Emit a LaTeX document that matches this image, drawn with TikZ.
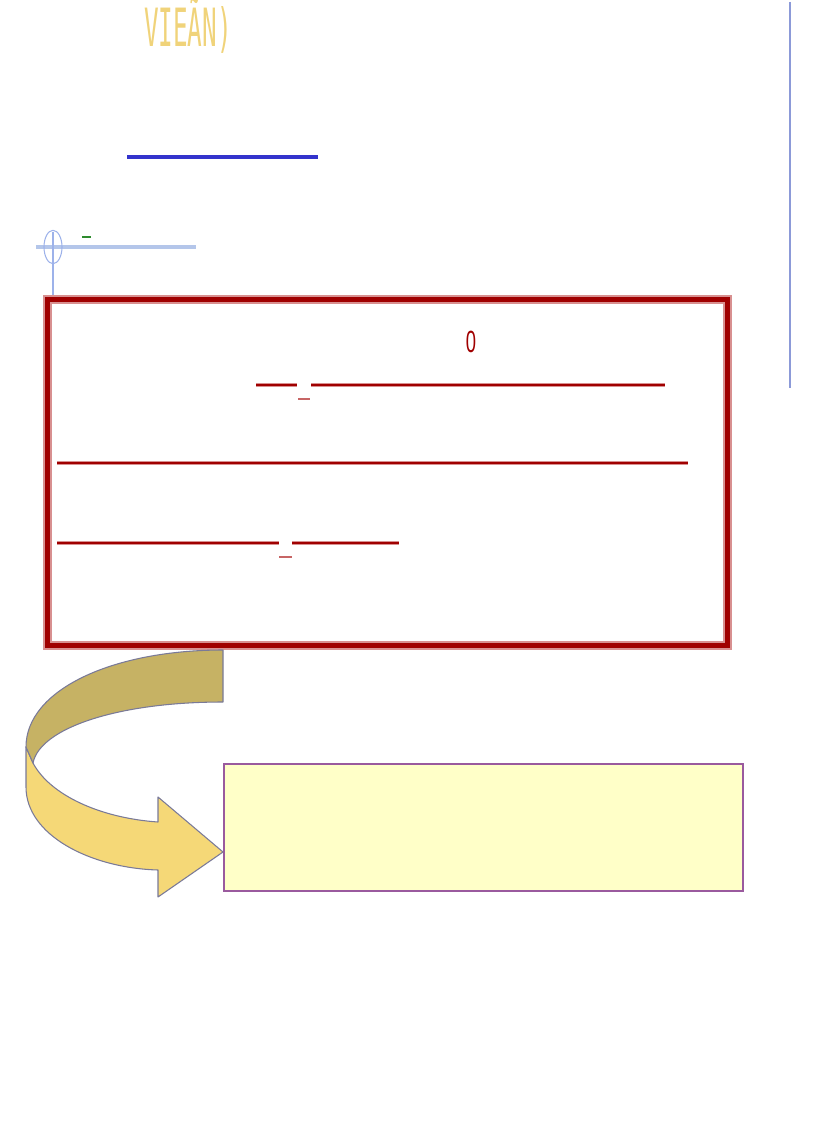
\documentclass[tikz,border=0pt]{standalone}
\usepackage{fontspec}
\usetikzlibrary{shapes.geometric}
\newfontfamily\titlefont{DejaVu Sans Mono}
\newfontfamily\numfont{Liberation Sans}
\definecolor{titlecol}{HTML}{F0D37A}
\definecolor{blueline}{HTML}{3333CC}
\definecolor{lightblue}{HTML}{B4C6EA}
\definecolor{ellcol}{HTML}{9DB2EA}
\definecolor{greencol}{HTML}{2E8B2E}
\definecolor{rightcol}{HTML}{8C9AD8}
\definecolor{darkred}{HTML}{A00000}
\definecolor{pinkhalo}{HTML}{D89090}
\definecolor{khaki}{HTML}{C6B264}
\definecolor{yellowband}{HTML}{F5D877}
\definecolor{arrowedge}{HTML}{7A7A98}
\definecolor{boxfill}{HTML}{FFFFC8}
\definecolor{boxdraw}{HTML}{9A5A9E}
\tikzset{
  redrule/.style={line width=2.4pt, pinkhalo},
  redcore/.style={line width=1.6pt, darkred},
  smalldash/.style={line width=1.8pt, pinkhalo!70!darkred},
  bandedge/.style={draw=arrowedge, line width=0.8pt, line join=round},
}
\begin{document}
\begin{tikzpicture}[x=0.75pt,y=-0.75pt]
\useasboundingbox (0,0) rectangle (816,1123);
% title
\node[anchor=base, inner sep=0pt, text=titlecol, xscale=0.48, yscale=1.04, font=\titlefont\fontsize{38pt}{40pt}\selectfont] (title) at (188,47) {VIEÃN)};
% blue rule
\coordinate (bl1) at (127,157);
\coordinate (bl2) at (318,157);
\draw[blueline, line width=3pt] (bl1) -- (bl2);
% light blue rule with ellipse
\coordinate (lb1) at (36,247);
\coordinate (lb2) at (196,247);
\draw[lightblue, line width=2.4pt] (lb1) -- (lb2);
\node[draw=ellcol, line width=0.8pt, ellipse, minimum width=13.5pt, minimum height=25pt, inner sep=0pt] (ell) at (53,247) {};
\coordinate (v1) at (53,232);
\coordinate (v2) at (53,296);
\draw[ellcol, line width=0.8pt] (v1) -- (v2);
\coordinate (v3) at (50,300);
\coordinate (v4) at (50,613);
\draw[ellcol, line width=0.6pt] (v3) -- (v4);
\coordinate (g1) at (82,237);
\coordinate (g2) at (91,237);
\draw[greencol, line width=2.2pt] (g1) -- (g2);
% right vertical line
\coordinate (r1) at (790,2);
\coordinate (r2) at (790,388);
\draw[rightcol, line width=1.1pt] (r1) -- (r2);
% red box
\coordinate (rb1) at (47.5,299.5);
\coordinate (rb2) at (727.5,645.5);
\draw[pinkhalo, line width=1pt] (44,296) rectangle (731,649);
\draw[darkred, line width=3.6pt] (rb1) rectangle (rb2);
\draw[pinkhalo, line width=0.8pt] (51,303) rectangle (724,642);
\node[anchor=center, inner sep=0pt, text=darkred, xscale=0.6, font=\numfont\fontsize{23pt}{25pt}\selectfont] (zero) at (471,342) {0};
% red rules
\foreach \a/\b in {256/297, 311/665}{\draw[redrule] (\a,385) -- (\b,385); \draw[redcore] (\a,385) -- (\b,385);}
\draw[smalldash] (298,399) -- (310,399);
\draw[redrule] (57,463) -- (688,463); \draw[redcore] (57,463) -- (688,463);
\foreach \a/\b in {57/279, 292/399}{\draw[redrule] (\a,543) -- (\b,543); \draw[redcore] (\a,543) -- (\b,543);}
\draw[smalldash] (279,557) -- (292,557);
% yellow box
\coordinate (yb1) at (224,764);
\coordinate (yb2) at (743,891);
\coordinate (ytip) at (223,852);
\draw[draw=boxdraw, fill=boxfill, line width=1.2pt] (yb1) rectangle (yb2);
% curved arrow: lower band with head
\path[bandedge, fill=yellowband]
  (26,747) -- (33,763)
  .. controls (50,795) and (100,818) .. (158,822)
  -- (158,797) -- (ytip) -- (158,897) -- (158,870)
  .. controls (90,868) and (26,835) .. (26,787) -- cycle;
% upper band
\path[bandedge, fill=khaki]
  (223,650) -- (223,702)
  .. controls (118,702) and (40,728) .. (33,763)
  -- (26,747)
  .. controls (26,690) and (112,650) .. (223,650) -- cycle;
\end{tikzpicture}
\end{document}
